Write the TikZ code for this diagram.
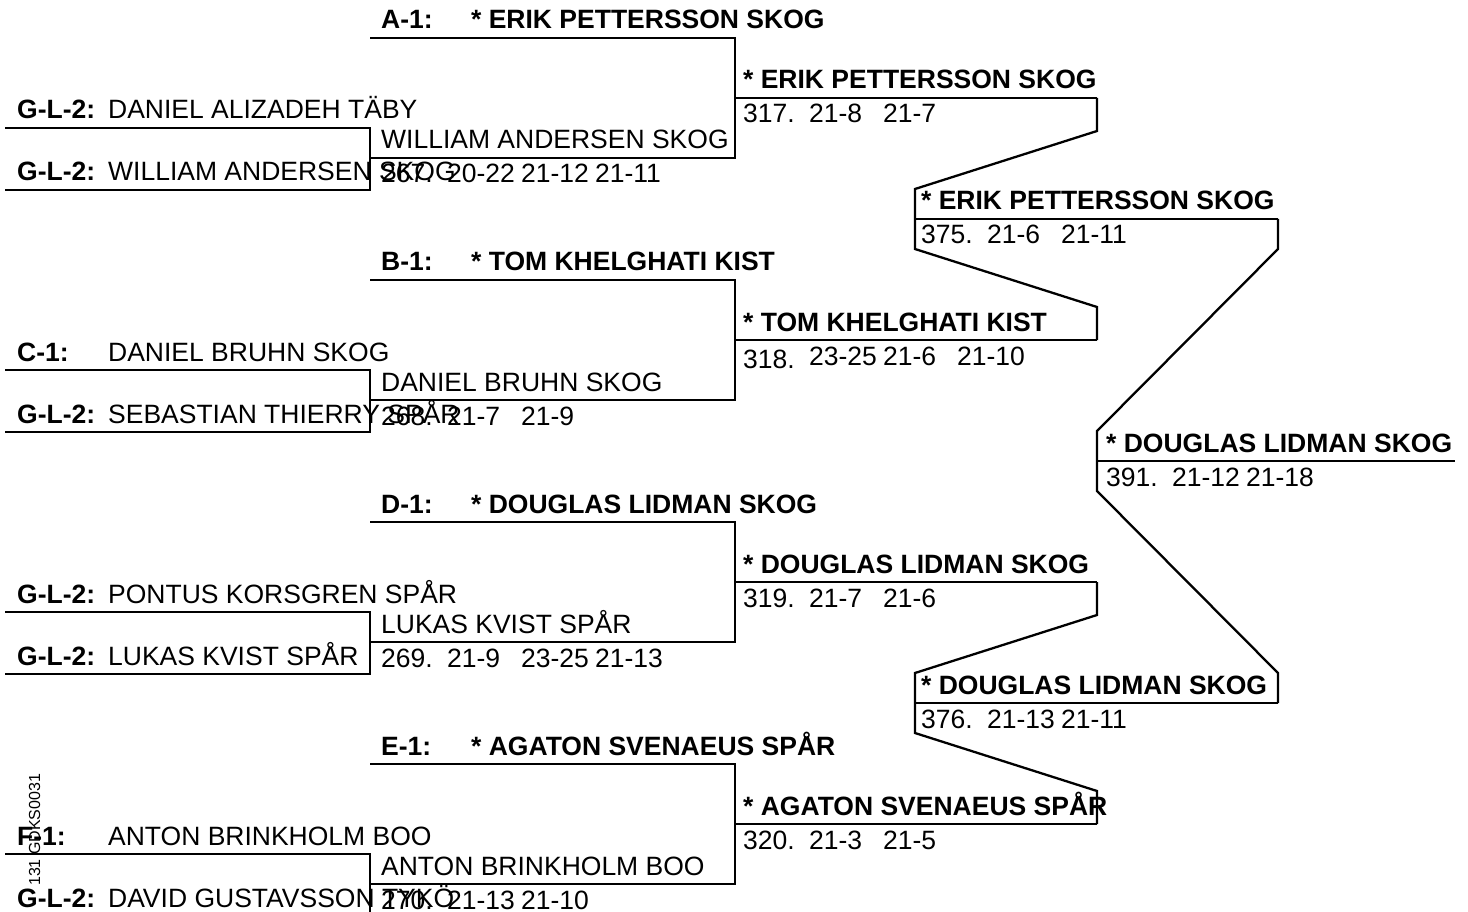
\documentclass[tikz,border=0pt]{standalone}
\usepackage{fontspec}
\setmainfont{Liberation Sans}
\usepackage{tikz}

% one row of results: match number and up to three set scores
\newcommand{\res}[4]{\makebox[66pt][l]{#1}\makebox[74pt][l]{#2}\makebox[74pt][l]{#3}#4}

\begin{document}
\begin{tikzpicture}[x=1pt,y=-1pt,line width=2.3pt,
  txt/.style={anchor=base west,inner sep=0pt,font=\fontsize{26.5}{30}\selectfont},
  bld/.style={anchor=base west,inner sep=0pt,font=\fontsize{26.5}{30}\selectfont\bfseries}]
\useasboundingbox (0,0) rectangle (1468,912);
%
\foreach \k in {0,1,2,3}{
  \begin{scope}[shift={(0,242*\k)}]
    \draw (5,128) -- (370,128) -- (370,190) -- (5,190);
    \draw (370,38) -- (735,38) -- (735,158) -- (370,158);
    \draw (735,98) -- (1097,98);
  \end{scope}
}
%
\draw (1097,98) -- (1097,131) -- (915,189) -- (915,249) -- (1097,307) -- (1097,340);
\draw (915,219) -- (1278,219);
\draw (1097,582) -- (1097,615) -- (915,673) -- (915,733) -- (1097,791) -- (1097,824);
\draw (915,703) -- (1278,703);
%
\draw (1278,219) -- (1278,249) -- (1097,431) -- (1097,491) -- (1278,673) -- (1278,703);
\draw (1097,461) -- (1455,461);
%
% block A
\node[bld] (seedA) at (380,29) {A-1:};
\node[bld] (seedAn) at (470,29) {* ERIK PETTERSSON SKOG};
\node[bld] (glA1) at (16,119) {G-L-2:};
\node[txt] (glA1n) at (107,119) {DANIEL ALIZADEH TÄBY};
\node[bld] (glA2) at (16,181) {G-L-2:};
\node[txt] (glA2n) at (107,181) {WILLIAM ANDERSEN SKOG};
\node[txt] (w267) at (380,149) {WILLIAM ANDERSEN SKOG};
\node[txt] (r267) at (380,183) {\res{267.}{20-22}{21-12}{21-11}};
\node[bld] (w317) at (742,89) {* ERIK PETTERSSON SKOG};
\node[txt] (r317) at (742,123) {\res{317.}{21-8}{21-7}{}};
%
% block B
\node[bld] (seedB) at (380,271) {B-1:};
\node[bld] (seedBn) at (470,271) {* TOM KHELGHATI KIST};
\node[bld] (cB1) at (16,361) {C-1:};
\node[txt] (cB1n) at (107,361) {DANIEL BRUHN SKOG};
\node[bld] (glB2) at (16,423) {G-L-2:};
\node[txt] (glB2n) at (107,423) {SEBASTIAN THIERRY SPÅR};
\node[txt] (w268) at (380,391) {DANIEL BRUHN SKOG};
\node[txt] (r268) at (380,425) {\res{268.}{21-7}{21-9}{}};
\node[bld] (w318) at (742,331) {* TOM KHELGHATI KIST};
\node[txt] (r318) at (742,365) {\res{\raisebox{-3pt}{318.}}{23-25}{21-6}{21-10}};
%
% block D
\node[bld] (seedD) at (380,513) {D-1:};
\node[bld] (seedDn) at (470,513) {* DOUGLAS LIDMAN SKOG};
\node[bld] (glD1) at (16,603) {G-L-2:};
\node[txt] (glD1n) at (107,603) {PONTUS KORSGREN SPÅR};
\node[bld] (glD2) at (16,665) {G-L-2:};
\node[txt] (glD2n) at (107,665) {LUKAS KVIST SPÅR};
\node[txt] (w269) at (380,633) {LUKAS KVIST SPÅR};
\node[txt] (r269) at (380,667) {\res{269.}{21-9}{23-25}{21-13}};
\node[bld] (w319) at (742,573) {* DOUGLAS LIDMAN SKOG};
\node[txt] (r319) at (742,607) {\res{319.}{21-7}{21-6}{}};
%
% block E
\node[bld] (seedE) at (380,755) {E-1:};
\node[bld] (seedEn) at (470,755) {* AGATON SVENAEUS SPÅR};
\node[bld] (fE1) at (16,845) {F-1:};
\node[txt] (fE1n) at (107,845) {ANTON BRINKHOLM BOO};
\node[bld] (glE2) at (16,907) {G-L-2:};
\node[txt] (glE2n) at (107,907) {DAVID GUSTAVSSON TYKÖ};
\node[txt] (w270) at (380,875) {ANTON BRINKHOLM BOO};
\node[txt] (r270) at (380,909) {\res{270.}{21-13}{21-10}{}};
\node[bld] (w320) at (742,815) {* AGATON SVENAEUS SPÅR};
\node[txt] (r320) at (742,849) {\res{320.}{21-3}{21-5}{}};
%
% semifinals and final
\node[bld] (w375) at (920,210) {* ERIK PETTERSSON SKOG};
\node[txt] (r375) at (920,244) {\res{375.}{21-6}{21-11}{}};
\node[bld] (w376) at (920,694) {* DOUGLAS LIDMAN SKOG};
\node[txt] (r376) at (920,728) {\res{376.}{21-13}{21-11}{}};
\node[bld] (w391) at (1105,452) {* DOUGLAS LIDMAN SKOG};
\node[txt] (r391) at (1105,486) {\res{391.}{21-12}{21-18}{}};
%
\node[anchor=base west,inner sep=0pt,rotate=90,font=\fontsize{16}{18}\selectfont] (code) at (40,887) {131 GDKS0031};
\end{tikzpicture}
\end{document}
